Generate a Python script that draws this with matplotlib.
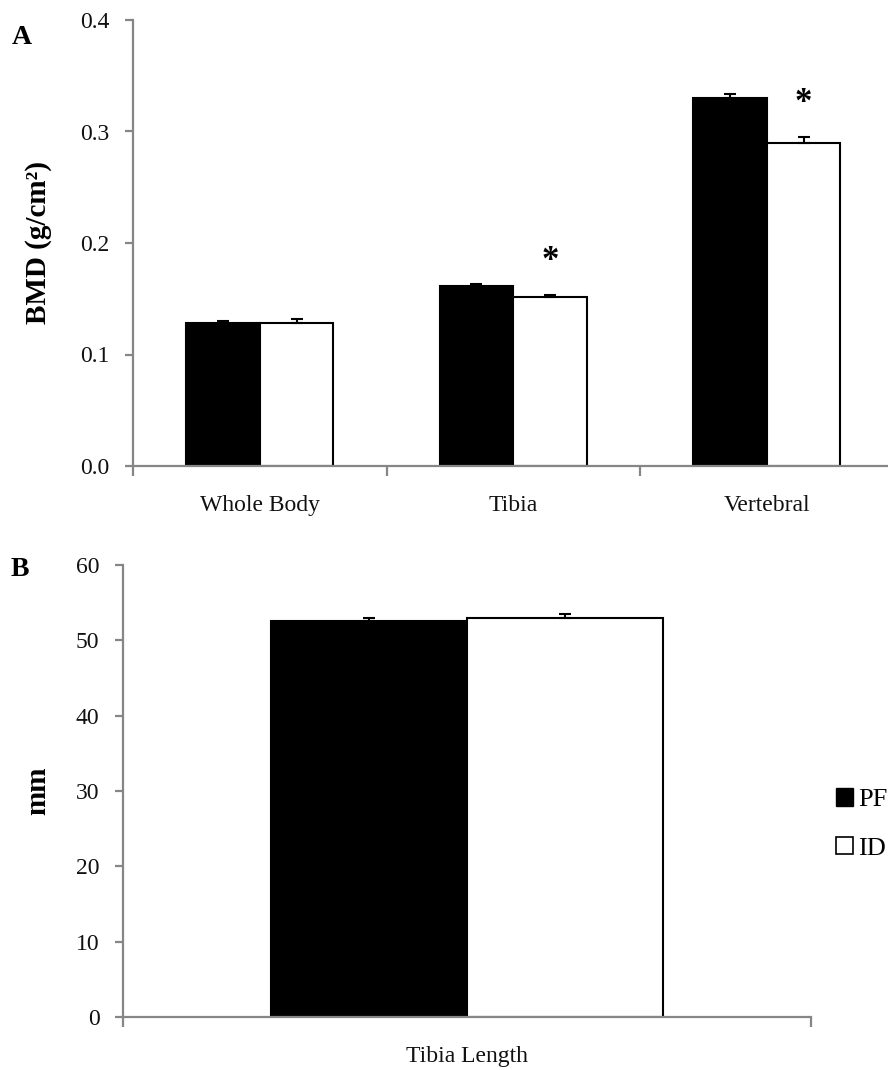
import numpy as np
import matplotlib
matplotlib.use("Agg")
from matplotlib import pyplot as plt
from matplotlib.patches import Patch

plt.rcParams['font.family'] = ['Liberation Serif', 'DejaVu Serif']

# panel A - bone mineral density
sites = ["Whole Body", "Tibia", "Vertebral"]
bmd_pf = [0.1285, 0.1614, 0.3303]
bmd_pf_err = [0.0015, 0.0015, 0.003]
bmd_id = [0.128, 0.1518, 0.290]
bmd_id_err = [0.0035, 0.002, 0.005]
bmd_signif = [False, True, True]

# panel B - tibia length
length_cat = ["Tibia Length"]
len_pf = [52.6]
len_pf_err = [0.3]
len_id = [52.95]
len_id_err = [0.6]

group_names = ["PF", "ID"]

AXIS_GRAY = "#868686"
width = 0.29

fig = plt.figure(figsize=(8.88, 10.7), dpi=100)


def style_axes(ax, n):
    for s in ["top", "right"]:
        ax.spines[s].set_visible(False)
    for s in ["left", "bottom"]:
        ax.spines[s].set_color(AXIS_GRAY)
        ax.spines[s].set_linewidth(1.6)
    ax.set_xlim(-0.5, n - 0.5)
    # category boundaries carry the tick marks, centers carry the labels
    ax.set_xticks(np.arange(n + 1) - 0.5)
    ax.set_xticklabels([])
    ax.tick_params(axis="x", which="major", length=7, width=1.6, color=AXIS_GRAY)
    ax.tick_params(axis="y", length=6, width=1.6, color=AXIS_GRAY,
                   labelsize=17, pad=11, labelcolor="#111111")
    ax.tick_params(axis="x", which="minor", length=0, labelsize=17, pad=21,
                   labelcolor="#111111")


def draw_pair(ax, cats, a, a_err, b, b_err, w):
    x = np.arange(len(cats))
    zeros = np.zeros(len(cats))
    ba = ax.bar(x - w / 2, a, w, color="black", edgecolor="black", linewidth=1.5,
                yerr=[zeros, a_err], capsize=4,
                error_kw=dict(ecolor="black", elinewidth=1.5, capthick=1.5))
    bb = ax.bar(x + w / 2, b, w, color="white", edgecolor="black", linewidth=1.5,
                yerr=[zeros, b_err], capsize=4,
                error_kw=dict(ecolor="black", elinewidth=1.5, capthick=1.5))
    ax.set_xticks(x, minor=True)
    ax.set_xticklabels(cats, minor=True)
    return ba, bb


# ---- panel A
axA = fig.add_axes([133 / 888, 1 - 466 / 1070, (893.5 - 133) / 888, (466 - 20) / 1070])
style_axes(axA, len(sites))
draw_pair(axA, sites, bmd_pf, bmd_pf_err, bmd_id, bmd_id_err, width)
axA.set_ylim(0, 0.4)
axA.set_yticks(np.arange(0, 0.41, 0.1))
axA.set_yticklabels(["%.1f" % v for v in np.arange(0, 0.41, 0.1)])
axA.set_ylabel("BMD (g/cm²)", fontsize=21, fontweight="bold")
axA.yaxis.set_label_coords(-0.107, 0.5)
for i, sig in enumerate(bmd_signif):
    if sig:
        axA.text(i + width / 2, bmd_id[i] + bmd_id_err[i] + 0.03, "*",
                 ha="center", va="center", fontsize=25, fontweight="bold")

# ---- panel B
axB = fig.add_axes([123 / 888, 1 - 1017 / 1070, (811 - 123) / 888, (1017 - 565) / 1070])
style_axes(axB, len(length_cat))
draw_pair(axB, length_cat, len_pf, len_pf_err, len_id, len_id_err, 0.285)
axB.set_ylim(0, 60)
axB.set_yticks(np.arange(0, 61, 10))
axB.set_ylabel("mm", fontsize=21, fontweight="bold")
axB.yaxis.set_label_coords(-0.105, 0.5)

fig.text(22 / 888, 1 - 38 / 1070, "A", fontsize=20, fontweight="bold", ha="center", va="center")
fig.text(20 / 888, 1 - 569 / 1070, "B", fontsize=20, fontweight="bold", ha="center", va="center")

# legend sits against the right edge of the figure
handles = [Patch(facecolor="black", edgecolor="black"),
           Patch(facecolor="white", edgecolor="black", linewidth=1.2)]
fig.legend(handles, group_names, loc="center left",
           bbox_to_anchor=(836 / 888, 1 - 824 / 1070), frameon=False,
           fontsize=19, handlelength=0.65, handleheight=0.65, handletextpad=0.2,
           labelspacing=0.95, borderaxespad=0, borderpad=0)

fig.savefig("out.png", dpi=100)
